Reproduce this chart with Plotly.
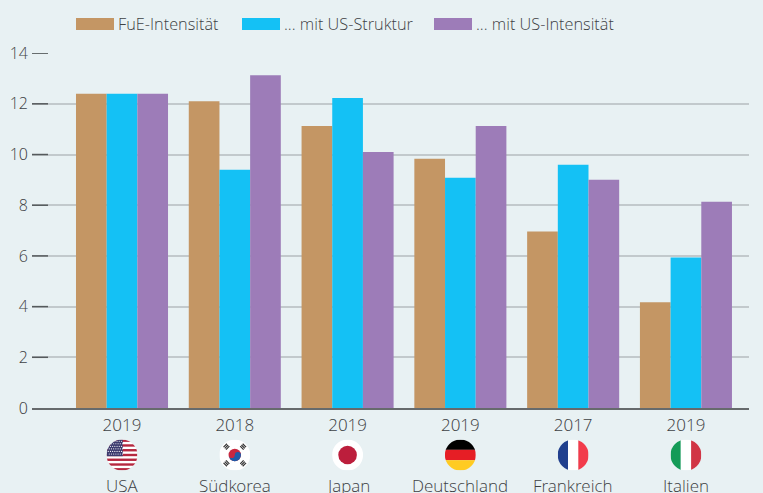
import base64
import plotly.graph_objects as go

years = ["2019", "2018", "2019", "2019", "2017", "2019"]
countries = ["USA", "Südkorea", "Japan", "Deutschland", "Frankreich", "Italien"]
fue_intensitaet = [12.4, 12.1, 11.13, 9.83, 6.96, 4.17]
mit_us_struktur = [12.4, 9.4, 12.23, 9.08, 9.6, 5.94]
mit_us_intensitaet = [12.4, 13.13, 10.1, 11.13, 9.0, 8.14]
series_names = ["FuE-Intensität", "... mit US-Struktur", "... mit US-Intensität"]
colors = ["#C49664", "#14C1F5", "#9D7CB8"]
y_ticks = [0, 2, 4, 6, 8, 10, 12, 14]

BG = "#E8F1F3"
FONT = "Open Sans Light, Open Sans, sans-serif"
TEXT = "#3E4245"


# flags as small svg pictures, clipped to a circle
def flag(body):
    svg = (
        '<svg xmlns="http://www.w3.org/2000/svg" viewBox="0 0 90 90" width="90" height="90">'
        '<defs><clipPath id="c"><circle cx="45" cy="45" r="45"/></clipPath></defs>'
        '<g clip-path="url(#c)">' + body + "</g></svg>"
    )
    return "data:image/svg+xml;base64," + base64.b64encode(svg.encode()).decode()


def rect(x, y, w, h, fill):
    return f'<rect x="{x}" y="{y}" width="{w}" height="{h}" fill="{fill}"/>'


us_body = rect(0, 0, 90, 90, "#FFFFFF")
for i in range(0, 13, 2):
    us_body += rect(0, i * 6.92, 90, 6.92, "#B5283F")
us_body += rect(0, 0, 47, 48.5, "#3C3B6E")
for row in range(6):
    for col in range(7):
        us_body += f'<circle cx="{5 + col * 6.4 + (row % 2) * 3}" cy="{5 + row * 7.4}" r="1.7" fill="#FFFFFF"/>'

kr_body = rect(0, 0, 90, 90, "#FFFFFF")
kr_body += '<circle cx="45" cy="45" r="18" fill="#C8283F"/>'
kr_body += '<path d="M27,45 a18,18 0 0 0 36,0 a9,9 0 0 0 -18,0 a9,9 0 0 1 -18,0" fill="#1F5BA8"/>'
for ang in (45, 135, 225, 315):
    kr_body += (
        f'<g transform="rotate({ang} 45 45)">'
        + rect(38, 4, 14, 3.5, "#333333") + rect(38, 9, 14, 3.5, "#333333") + rect(38, 14, 14, 3.5, "#333333")
        + "</g>"
    )

jp_body = rect(0, 0, 90, 90, "#FFFFFF") + '<circle cx="45" cy="45" r="27" fill="#BC1E3C"/>'
de_body = rect(0, 0, 90, 30, "#000000") + rect(0, 30, 90, 30, "#E61E25") + rect(0, 60, 90, 30, "#FFCB22")
fr_body = rect(0, 0, 30, 90, "#21408E") + rect(30, 0, 30, 90, "#FFFFFF") + rect(60, 0, 30, 90, "#F23B4B")
it_body = rect(0, 0, 30, 90, "#149B57") + rect(30, 0, 30, 90, "#FFFFFF") + rect(60, 0, 30, 90, "#D13545")
flags = [flag(b) for b in [us_body, kr_body, jp_body, de_body, fr_body, it_body]]

x_pos = list(range(len(countries)))

fig = go.Figure()
for name, vals, col in zip(series_names, [fue_intensitaet, mit_us_struktur, mit_us_intensitaet], colors):
    fig.add_trace(go.Bar(x=x_pos, y=vals, name=name, marker=dict(color=col, line_width=0)))

W, H = 763, 493
L, R, T, B = 32, 14, 53, 85
plot_h = H - T - B
plot_w = W - L - R


def py(px_y):
    # pixel row -> paper y
    return (H - B - px_y) / plot_h


def px_x(px):
    return (px - L) / plot_w


shapes = []
annotations = []
# legend built by hand, the swatches are wider than plotly's own
for x0, x1, tx, name, col in zip([76, 242, 434], [114, 280, 472], [116, 282, 474], series_names, colors):
    shapes.append(dict(type="rect", xref="paper", yref="paper", x0=px_x(x0), x1=px_x(x1),
                       y0=py(30), y1=py(18), fillcolor=col, line_width=0))
    annotations.append(dict(xref="paper", yref="paper", x=px_x(tx), y=py(24), text=name, showarrow=False,
                            xanchor="left", yanchor="middle", font=dict(size=16.3, color=TEXT, family=FONT)))

# short dark ticks sitting on the start of each gridline
for t in y_ticks[1:]:
    shapes.append(dict(type="line", xref="paper", yref="y", x0=0, x1=px_x(48), y0=t, y1=t,
                       line=dict(color="#555A5C", width=1.5)))

images = []
for i, (c, src) in enumerate(zip(countries, flags)):
    annotations.append(dict(xref="x", yref="paper", x=i, y=py(485), text=c, showarrow=False,
                            xanchor="center", yanchor="middle", font=dict(size=17, color=TEXT, family=FONT)))
    images.append(dict(source=src, xref="x", yref="paper", x=i, y=py(455), sizex=31 / 112.8, sizey=31 / plot_h,
                       xanchor="center", yanchor="middle", sizing="contain", layer="above"))

fig.update_layout(
    width=W, height=H,
    margin=dict(l=L, r=R, t=T, b=B, pad=0, autoexpand=False),
    paper_bgcolor=BG, plot_bgcolor=BG,
    barmode="group", bargap=0.184, bargroupgap=0,
    showlegend=False,
    shapes=shapes, annotations=annotations, images=images,
    font=dict(family=FONT, size=17, color=TEXT),
    xaxis=dict(range=[-0.798, 5.559], tickmode="array", tickvals=x_pos, ticktext=years,
               ticks="", ticklabelstandoff=1, automargin=False,
               showgrid=False, zeroline=False, showline=True, linecolor="#666A6C", linewidth=2,
               tickfont=dict(size=17, color=TEXT)),
    yaxis=dict(range=[0, 14.005], tickmode="array", tickvals=y_ticks, ticks="", ticklabelstandoff=3,
               automargin=False,
               gridcolor="#C2C9CC", gridwidth=1.5, zeroline=False, showline=False,
               tickfont=dict(size=16, color=TEXT)),
)

fig.write_html("out.html", config={"displayModeBar": False},
               post_script="document.body.style.margin='0';document.body.style.overflow='hidden';")
